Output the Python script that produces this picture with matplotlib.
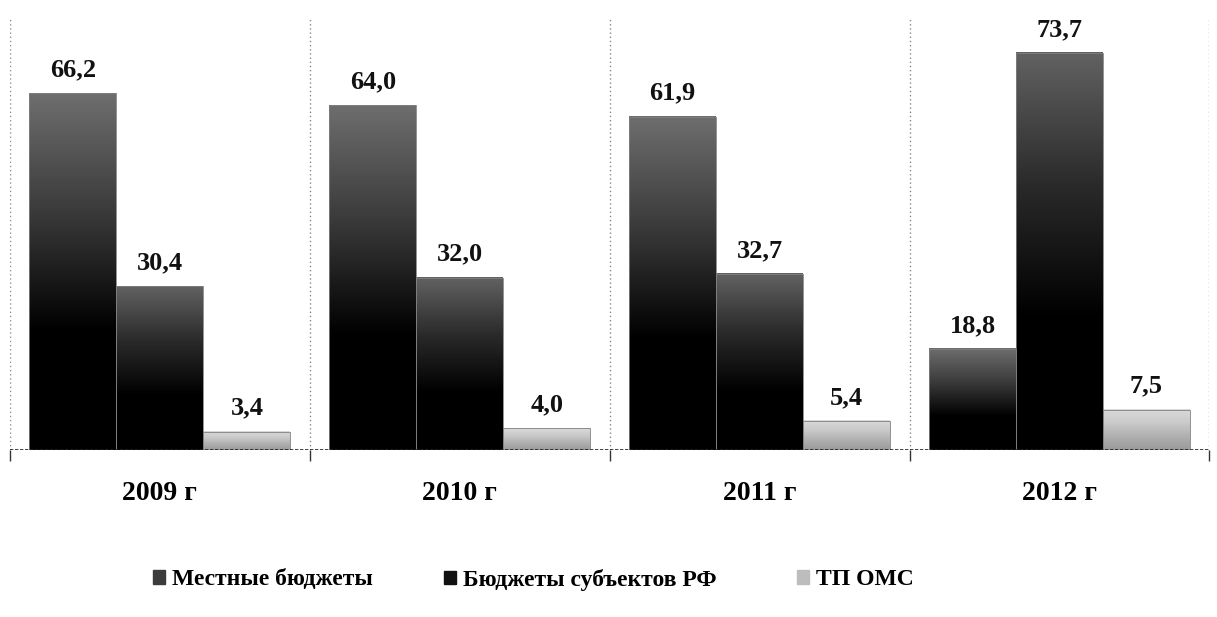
import numpy as np
import matplotlib.pyplot as plt
from matplotlib.colors import LinearSegmentedColormap
from matplotlib.patches import Rectangle

plt.rcParams['font.family'] = ['Liberation Serif', 'DejaVu Serif']

years = ['2009 г', '2010 г', '2011 г', '2012 г']
series_names = ['Местные бюджеты', 'Бюджеты субъектов РФ', 'ТП ОМС']
local_budgets = [66.2, 64.0, 61.9, 18.8]
regional_budgets = [30.4, 32.0, 32.7, 73.7]
tp_oms = [3.4, 4.0, 5.4, 7.5]

series = [local_budgets, regional_budgets, tp_oms]
# bottom -> top colour ramps for each series
ramps = [
    ['#000000', '#000000', '#3a3a3a', '#6e6e6e'],
    ['#000000', '#000000', '#2a2a2a', '#626262'],
    ['#9a9a9a', '#b0b0b0', '#cacaca', '#dadada'],
]
legend_colors = ['#3c3c3c', '#111111', '#bdbdbd']

fig = plt.figure(figsize=(12.17, 6.17), dpi=100)
ax = fig.add_axes([0.0082, 0.2707, 0.9856, 0.6985])

x = np.arange(len(years))
width = 0.29
offsets = [-width, 0, width]
grad = np.linspace(0, 1, 256).reshape(-1, 1)

for vals, off, ramp in zip(series, offsets, ramps):
    cmap = LinearSegmentedColormap.from_list('ramp', ramp)
    for xi, v in zip(x, vals):
        left = xi + off - width / 2
        ax.imshow(grad, cmap=cmap, origin='lower', aspect='auto',
                  extent=(left, left + width, 0, v), zorder=2)
        ax.add_patch(Rectangle((left, 0), width, v, fill=False,
                               edgecolor='#808080', lw=0.6, zorder=3))
        ax.text(xi + off, v + 2.2, f'{v:.1f}'.replace('.', ','),
                ha='center', va='bottom', fontsize=19, fontweight='bold',
                color='#111111')

ax.set_xlim(-0.5, 3.5)
ax.set_ylim(0, 80)

# dotted separators between years
for b in [-0.5, 0.5, 1.5, 2.5, 3.5]:
    ax.axvline(b, color='#888888', lw=1.0, ls=(0, (1, 2)), zorder=1)
ax.axhline(0, color='#222222', lw=1.2, ls=(0, (2, 1)), zorder=4)

for s in ax.spines.values():
    s.set_visible(False)
ax.set_yticks([])
ax.set_xticks([-0.5, 0.5, 1.5, 2.5, 3.5], minor=True)
ax.tick_params(axis='x', which='minor', length=8, width=1, color='#333333')
ax.set_xticks(x)
ax.set_xticklabels(years, fontsize=20, fontweight='bold')
ax.tick_params(axis='x', which='major', length=0, pad=22)

# one legend entry per slot, as the columns are unevenly spaced
legend_x = [0.118, 0.357, 0.647]
for name, color, lx in zip(series_names, legend_colors, legend_x):
    fig.legend([Rectangle((0, 0), 1, 1, color=color)], [name],
               loc='center left', bbox_to_anchor=(lx, 0.06), frameon=False,
               prop={'size': 17, 'weight': 'bold'}, handlelength=0.5,
               handleheight=0.5, handletextpad=0.3, borderaxespad=0)

fig.savefig('out.png', dpi=100)
